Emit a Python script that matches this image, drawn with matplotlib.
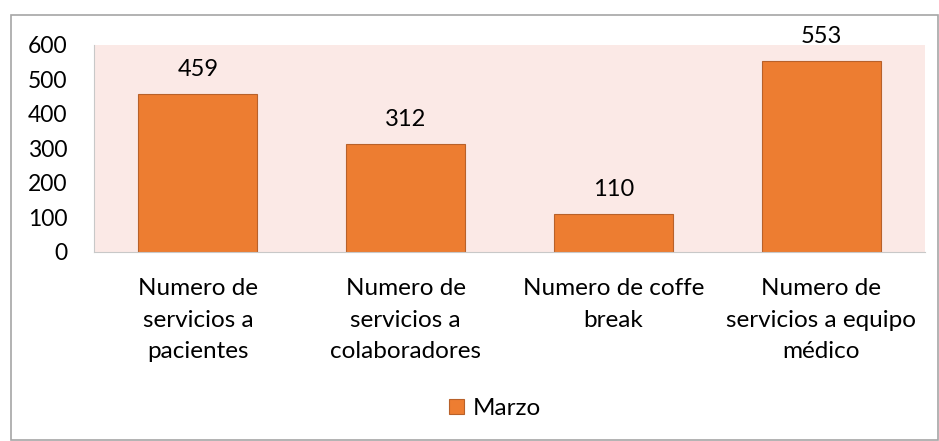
# Bar chart: servicios de Marzo
import matplotlib.pyplot as plt
from matplotlib.patches import Rectangle

plt.rcParams["font.family"] = ["Lato", "DejaVu Sans"]

categories = [
    "Numero de\nservicios a\npacientes",
    "Numero de\nservicios a\ncolaboradores",
    "Numero de coffe\nbreak",
    "Numero de\nservicios a equipo\nmédico",
]
marzo = [459, 312, 110, 553]
y_ticks = [0, 100, 200, 300, 400, 500, 600]

fig = plt.figure(figsize=(9.39, 4.41), dpi=100)
ax = fig.add_axes([0.1001, 0.4286, 0.885, 0.4694])

# outer chart border
fig.patches.append(Rectangle((11 / 939, 1 / 441), 927 / 939, 425 / 441,
                             transform=fig.transFigure, fill=False,
                             edgecolor="#a6a6a6", linewidth=1.2))

ax.set_facecolor("#fbe9e6")
x = range(len(categories))
bars = ax.bar(x, marzo, width=0.573, color="#ed7d31", edgecolor="#b8612a",
              linewidth=0.8, label="Marzo")

for b, v in zip(bars, marzo):
    ax.annotate(str(v), (b.get_x() + b.get_width() / 2, v), xytext=(0, 10),
                textcoords="offset points", ha="center", va="bottom", fontsize=17)

ax.set_xlim(-0.5, len(categories) - 0.5)
ax.set_ylim(0, 600)
ax.set_yticks(y_ticks)
ax.set_xticks(list(x))
ax.set_xticklabels(categories, linespacing=1.6, fontsize=17.5)
ax.tick_params(axis="both", length=0, labelsize=16.5)
ax.tick_params(axis="x", pad=19, labelsize=17.5)
ax.tick_params(axis="y", pad=19)
for s in ["top", "right"]:
    ax.spines[s].set_visible(False)
for s in ["left", "bottom"]:
    ax.spines[s].set_color("#c8c8c8")

fig.legend(handles=[bars], labels=["Marzo"], loc="center", bbox_to_anchor=(0.527, 0.073),
           frameon=False, fontsize=17.5, handlelength=0.6, handleheight=0.6,
           handletextpad=0.35)

fig.savefig("out.png")
